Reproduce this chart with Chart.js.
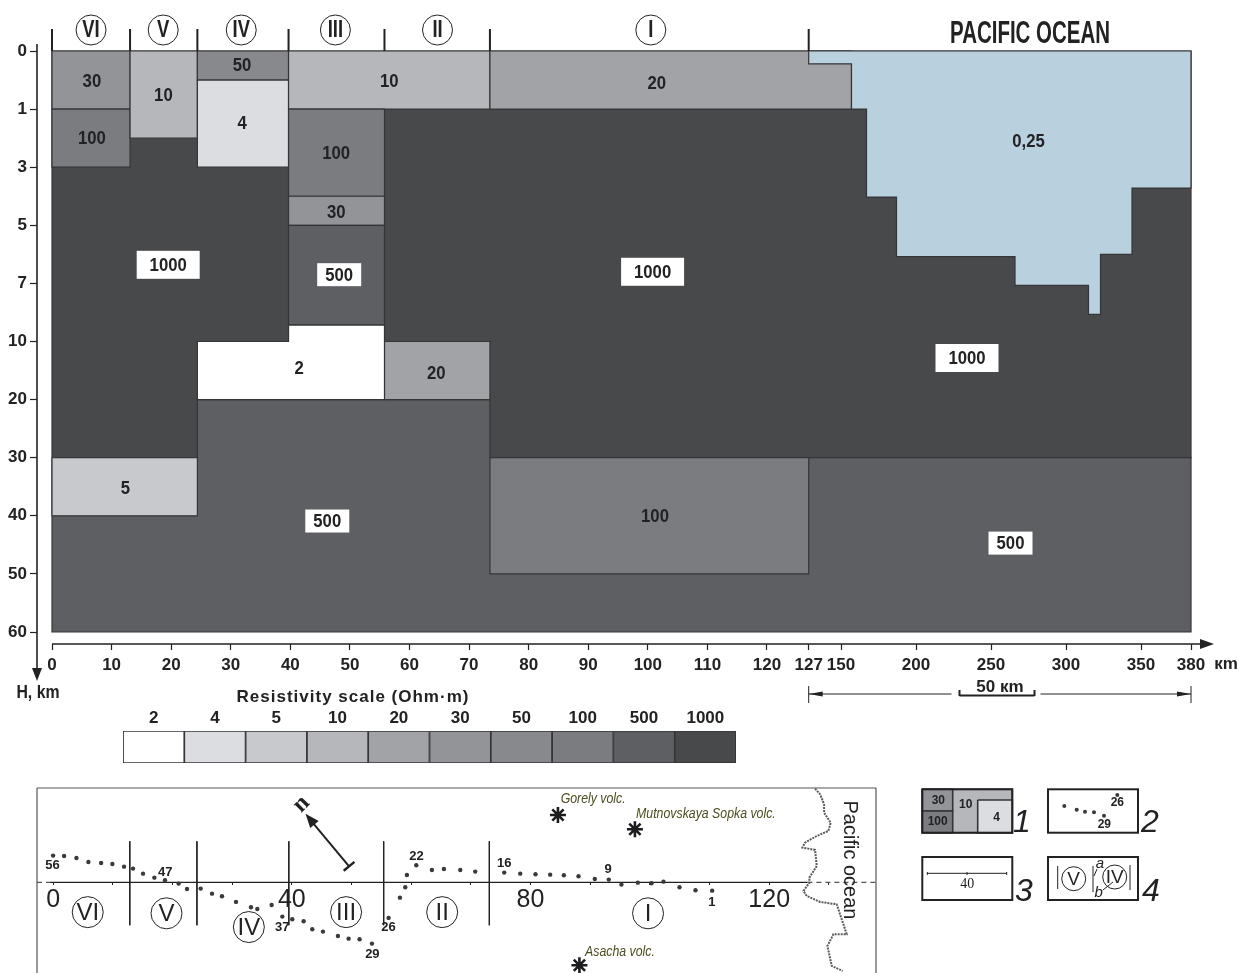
<!DOCTYPE html>
<html>
<head>
<meta charset="utf-8">
<title>Resistivity section</title>
<script src="https://cdn.jsdelivr.net/npm/chart.js@4/dist/chart.umd.js"></script>
<style>
  html, body { margin: 0; padding: 0; background: #fff; }
  body { width: 1238px; height: 973px; position: relative; overflow: hidden; }
  canvas { position: absolute; }
</style>
</head>
<body>
<canvas id="profile" width="1238" height="720" style="left:0;top:0"></canvas>
<canvas id="scaleBar" width="660" height="70" style="left:100px;top:700px"></canvas>
<canvas id="map" width="855" height="193" style="left:30px;top:780px"></canvas>
<canvas id="keys" width="255" height="130" style="left:915px;top:780px"></canvas>
<script>
// resistivity classes, Ohm*m
const rhoClasses = ["2", "4", "5", "10", "20", "30", "50", "100", "500", "1000"];
const rhoColors = ["#ffffff", "#dcdde0", "#c8c9cc", "#b6b7bb", "#a2a3a7", "#939498", "#88898d", "#7b7c80", "#5e5f62", "#48494b"];
const oceanColor = "#b9d0df";

// section blocks, km (painted in this order, after the deep layer)
const blockRho = ["5", "100", "30", "100", "10", "50", "4", "10", "20", "100", "30", "500", "20"];
const blockX0 = [0, 73.5, 0, 0, 13.1, 24.4, 24.4, 39.7, 73.5, 39.7, 39.7, 39.7, 55.8];
const blockX1 = [24.4, 127, 13.1, 13.1, 24.4, 39.7, 39.7, 73.5, 157, 55.8, 55.8, 55.8, 73.5];
const blockTop = [30, 30, 0, 1, 0, 0, 0.5, 0, 0, 1, 4, 5, 10];
const blockBottom = [40, 50, 1, 3, 2, 0.5, 3, 1, 1, 4, 5, 9.15, 20];

// upper resistive layer, then the deep layer under it
const baseX = [0, 380, 380, 0, 0];
const baseH = [0, 0, 30, 30, 0];
const deepX = [0, 24.4, 24.4, 73.5, 73.5, 380, 380, 0, 0];
const deepH = [30, 30, 20, 20, 30, 30, 60, 60, 30];

// low-resistivity body outline
const lowBodyX = [24.4, 39.7, 39.7, 55.8, 55.8, 24.4, 24.4];
const lowBodyH = [10, 10, 9.15, 9.15, 20, 20, 10];

// sea floor outline
const oceanX = [127, 127, 157, 157, 167, 167, 187, 187, 266, 266, 315, 315, 323, 323, 344, 344, 380, 380, 127];
const oceanH = [0, 0.22, 0.22, 1, 1, 4.03, 4.03, 6.08, 6.08, 7.1, 7.1, 8.6, 8.6, 6, 6, 3.72, 3.72, 0, 0];

// axes
const xTicks = [0, 10, 20, 30, 40, 50, 60, 70, 80, 90, 100, 110, 120, 127, 150, 200, 250, 300, 350, 380];
const yTicks = [0, 1, 3, 5, 7, 10, 20, 30, 40, 50, 60];

// value labels inside the section
const labelText = ["30", "100", "10", "50", "4", "10", "20", "100", "30", "500", "1000", "1000", "1000", "2", "20", "5", "500", "100", "500", "0,25"];
const labelX = [6.7, 6.7, 18.7, 31.9, 31.9, 56.6, 101.5, 47.7, 47.7, 48.2, 19.5, 100.8, 234, 41.5, 64.5, 12.3, 46.2, 101.2, 263, 275];
const labelH = [0.52, 2, 0.76, 0.24, 1.48, 0.52, 0.55, 2.52, 4.52, 6.7, 6.36, 6.6, 12.84, 14.6, 15.3, 35.2, 40.9, 40, 44.7, 2.1];
const labelBoxed = [0, 0, 0, 0, 0, 0, 0, 0, 0, 1, 1, 1, 1, 0, 0, 0, 1, 0, 1, 0];

// zones
const zoneEdges = [0, 13.1, 24.4, 39.7, 55.8, 73.5, 127];
const zoneNames = ["VI", "V", "IV", "III", "II", "I"];
const zoneCenters = [6.55, 18.66, 31.76, 47.56, 64.7, 100.5];

// map: sounding sites, km along / across the profile
const siteX = [0, 1.84, 3.91, 5.91, 8.04, 9.93, 11.89, 13.39, 15.07, 16.97, 18.75, 21.04, 22.44, 24.73, 26.63, 28.3, 30.65, 33.16, 34.22, 36.62, 38.41, 40.08, 41.98, 43.43, 45.22, 47.73, 49.52, 51.36, 53.43, 56.22, 58.12, 59.01, 59.29, 60.86, 63.48, 65.49, 68.23, 70.74, 75.6, 78.28, 80.84, 83.3, 85.59, 88.05, 90.78, 93.12, 95.24, 97.99, 100.28, 102.29, 104.97, 107.65, 110.44];
const siteY = [4.47, 4.41, 4.08, 3.41, 3.24, 3.07, 2.62, 2.29, 1.45, 0.78, 0.34, -0.22, -1.12, -1.06, -1.9, -2.35, -3.29, -4.19, -4.47, -3.8, -5.75, -6.2, -6.53, -7.87, -8.26, -8.99, -9.44, -9.55, -10.27, -5.97, -2.57, -0.84, 1.23, 2.85, 2.07, 2.23, 2.07, 1.79, 1.62, 1.45, 1.34, 1.28, 1.17, 1, 0.56, 0.45, -0.39, -0.06, -0.17, 0.11, -0.84, -1.34, -1.4];
const siteLabelText = ["56", "47", "37", "29", "26", "22", "16", "9", "1"];
const siteLabelX = [-0.1, 18.8, 38.4, 53.5, 56.2, 60.9, 75.6, 93, 110.4];
const siteLabelY = [2.85, 1.68, -7.5, -12.06, -7.5, 4.36, 3.18, 2.18, -3.35];

const mapZoneX = [5.8, 19, 32.8, 49.1, 65.2, 99.7];
const mapZoneY = [-5, -5.2, -7.5, -5, -5, -5.2];
const mapEdges = [12.85, 24.1, 39.5, 55.4, 73.1];

const volcanoName = ["Gorely volc.", "Mutnovskaya Sopka volc.", "Asacha volc."];
const volcanoX = [84.6, 97.5, 88.2];
const volcanoY = [11.27, 8.88, -13.9];
const volcanoLabelX = [90.5, 109.4, 95];
const volcanoLabelY = [13.9, 11.5, -11.7];

const coastX = [127.69, 128.53, 129.2, 129.2, 130.31, 129.92, 127.97, 126.02, 125.57, 127.69, 127.97, 126.74, 126.74, 125.74, 126.3, 128.53, 131.32, 132.99, 130.76, 129.76, 130.48, 132.32];
const coastY = [15.69, 14.74, 13.07, 11.67, 9.99, 8.6, 7.76, 6.64, 5.81, 5.42, 2.74, 0.78, -0.06, -1.45, -2.29, -3.29, -3.69, -8.71, -8.71, -10.66, -14.01, -14.85];

const mapTicksShown = [0, 40, 80, 120];

// key panels
const keyBlockFill = ["10", "30", "100", "4"];
const keyBlockX0 = [7.3, 7.3, 7.3, 62.7];
const keyBlockX1 = [97.3, 37.7, 37.7, 97.3];
const keyBlockTop = [9.3, 9.3, 31, 20];
const keyBlockBottom = [52.7, 31, 52.7, 52.7];
const keyDotX = [149.3, 161.7, 170, 179, 189, 202.3];
const keyDotY = [26, 29.7, 31.7, 32.3, 35.7, 15];

const inkColor = "#222224";
const edgeColor = "#353537";
const boldFont = '"Liberation Sans", Arial, sans-serif';

// axis that is linear between given stops only (the section uses an uneven depth and distance scale)
class PiecewiseScale extends Chart.LinearScale {
    static id = "piecewise";
    static defaults = Chart.LinearScale.defaults;

    buildTicks() {
        return this.options.tickValues.map((value) => ({ value }));
    }

    getPixelForValue(value) {
        const from = this.options.stopValues;
        const to = this.options.stopPixels;
        let i = 0;
        while (i < from.length - 2 && value > from[i + 1]) i++;
        return to[i] + ((value - from[i]) * (to[i + 1] - to[i])) / (from[i + 1] - from[i]);
    }
}
Chart.register(PiecewiseScale);

const colorOf = (rho) => rhoColors[rhoClasses.indexOf(rho)];

const rectPath = (x0, x1, top, bottom) => [
    { x: x0, y: top }, { x: x1, y: top }, { x: x1, y: bottom }, { x: x0, y: bottom }, { x: x0, y: top },
];
const zipPoints = (xs, ys) => xs.map((x, i) => ({ x, y: ys[i] }));

// closed polygon dataset; filled through the library's filler
const shape = (data, fill, order, width = 1.2) => ({
    data, order, showLine: true, fill: "shape", tension: 0, pointRadius: 0,
    backgroundColor: fill, borderColor: edgeColor, borderWidth: width,
});
const polyline = (data, color, width, dash) => ({
    data, showLine: true, tension: 0, pointRadius: 0, fill: false,
    borderColor: color, borderWidth: width, borderDash: dash || [],
});

// stretch squeezes the glyphs sideways, the original lettering is condensed
function text(ctx, str, x, y, font, color = inkColor, stretch = 1) {
    ctx.save();
    ctx.translate(x, y);
    ctx.scale(stretch, 1);
    ctx.font = font;
    ctx.fillStyle = color;
    ctx.textAlign = "center";
    ctx.textBaseline = "middle";
    ctx.fillText(str, 0, 0);
    ctx.restore();
}
function line(ctx, x0, y0, x1, y1, width = 1, color = inkColor) {
    ctx.strokeStyle = color;
    ctx.lineWidth = width;
    ctx.beginPath();
    ctx.moveTo(x0, y0);
    ctx.lineTo(x1, y1);
    ctx.stroke();
}
function arrowHead(ctx, tipX, tipY, angle, len, half, color = inkColor) {
    ctx.save();
    ctx.translate(tipX, tipY);
    ctx.rotate(angle);
    ctx.fillStyle = color;
    ctx.beginPath();
    ctx.moveTo(0, 0);
    ctx.lineTo(-len, -half);
    ctx.lineTo(-len, half);
    ctx.closePath();
    ctx.fill();
    ctx.restore();
}
function zoneBadge(ctx, name, x, y, r, font, stretch = 1) {
    ctx.strokeStyle = inkColor;
    ctx.lineWidth = 1;
    ctx.fillStyle = "#fff";
    ctx.beginPath();
    ctx.arc(x, y, r, 0, Math.PI * 2);
    ctx.fill();
    ctx.stroke();
    text(ctx, name, x, y + 1, font, inkColor, stretch);
}

// ---- section ----
const sectionSets = [
    shape(zipPoints(baseX, baseH), colorOf("1000"), 200),
    shape(zipPoints(deepX, deepH), colorOf("500"), 190),
    ...blockRho.map((rho, i) =>
        shape(rectPath(blockX0[i], blockX1[i], blockTop[i], blockBottom[i]), colorOf(rho), 100 - i)),
    shape(zipPoints(lowBodyX, lowBodyH), colorOf("2"), 60),
    shape(zipPoints(oceanX, oceanH), oceanColor, 50),
];

const sectionNotes = {
    id: "sectionNotes",
    afterDatasetsDraw(chart) {
        const { ctx } = chart;
        const sx = chart.scales.x;
        const sy = chart.scales.y;
        const top = sy.getPixelForValue(0);
        ctx.save();

        // value labels
        labelText.forEach((t, i) => {
            const px = sx.getPixelForValue(labelX[i]);
            const py = sy.getPixelForValue(labelH[i]);
            if (labelBoxed[i]) {
                const w = t.length === 4 ? 63 : 44;
                const h = t.length === 4 ? 28 : 23;
                ctx.fillStyle = "#fff";
                ctx.fillRect(px - w / 2, py - h / 2, w, h);
            }
            text(ctx, t, px, py + 1, `bold 19px ${boldFont}`, inkColor, 0.88);
        });

        // zones along the top
        zoneEdges.forEach((z) => {
            const px = sx.getPixelForValue(z);
            line(ctx, px, top - 22, px, top, 2);
        });
        zoneNames.forEach((n, i) => {
            zoneBadge(ctx, n, sx.getPixelForValue(zoneCenters[i]), top - 21, 15, `bold 23px ${boldFont}`, 0.8);
        });
        text(ctx, "PACIFIC OCEAN", 1030, 34, `bold 31px ${boldFont}`, inkColor, 0.66);

        // axis lines with arrows
        const x0 = sx.getPixelForValue(0);
        line(ctx, chart.chartArea.left, 44, chart.chartArea.left, 670, 1.6);
        arrowHead(ctx, chart.chartArea.left, 681, Math.PI / 2, 13, 5);
        line(ctx, x0, chart.chartArea.bottom, 1202, chart.chartArea.bottom, 1.6);
        arrowHead(ctx, 1214, chart.chartArea.bottom, 0, 14, 5);
        text(ctx, "кm", 1226, 664, `bold 17px ${boldFont}`);
        text(ctx, "H, km", 38, 693, `bold 18px ${boldFont}`, inkColor, 0.88);
        ctx.save();
        ctx.letterSpacing = "1px";
        text(ctx, "Resistivity scale (Ohm·m)", 353, 697, `bold 17px ${boldFont}`);
        ctx.restore();

        // 50 km bar for the oceanic part
        const a = sx.getPixelForValue(127);
        const b = sx.getPixelForValue(380);
        const c = sx.getPixelForValue(229);
        const d = sx.getPixelForValue(279);
        line(ctx, a, 686, a, 703, 1);
        line(ctx, b, 686, b, 703, 1);
        line(ctx, a, 694, c - 8, 694, 1);
        line(ctx, d + 6, 694, b, 694, 1);
        arrowHead(ctx, a, 694, Math.PI, 14, 2.5);
        arrowHead(ctx, b, 694, 0, 14, 2.5);
        line(ctx, c, 695.5, d, 695.5, 2);
        line(ctx, c, 690, c, 696, 2);
        line(ctx, d, 690, d, 696, 2);
        text(ctx, "50 кm", 1000, 687, `bold 17px ${boldFont}`);
        ctx.restore();
    },
};

new Chart(document.getElementById("profile"), {
    type: "scatter",
    data: { datasets: sectionSets },
    plugins: [sectionNotes],
    options: {
        responsive: false,
        animation: false,
        devicePixelRatio: 1,
        events: [],
        layout: { autoPadding: false, padding: { top: 44, right: 38, bottom: 46, left: 0 } },
        plugins: { legend: { display: false }, tooltip: { enabled: false } },
        scales: {
            x: {
                type: "piecewise",
                position: "bottom",
                min: -2.5,
                max: 400,
                tickValues: xTicks,
                stopValues: [0, 127, 150, 350, 380],
                stopPixels: [52, 808.7, 841, 1141, 1191],
                afterFit: (s) => { s.height = 30; },
                border: { display: false },
                grid: { drawOnChartArea: false, tickLength: 6, tickColor: inkColor, tickWidth: 1.2 },
                ticks: {
                    autoSkip: false, maxRotation: 0, padding: 5, color: inkColor,
                    font: { family: boldFont, size: 17, weight: "bold" },
                    callback: (v) => String(v),
                },
            },
            y: {
                type: "piecewise",
                position: "left",
                min: 0,
                max: 62,
                tickValues: yTicks,
                stopValues: yTicks,
                stopPixels: yTicks.map((_, i) => 51 + 58.1 * i),
                afterFit: (s) => { s.width = 37; },
                border: { display: false },
                grid: { drawOnChartArea: false, tickLength: 7, tickColor: inkColor, tickWidth: 1.2 },
                ticks: {
                    autoSkip: false, padding: 3, color: inkColor,
                    font: { family: boldFont, size: 17, weight: "bold" },
                    callback: (v) => String(v),
                },
            },
        },
    },
});

// ---- colour scale ----
new Chart(document.getElementById("scaleBar"), {
    type: "bar",
    data: {
        labels: rhoClasses,
        datasets: [{
            data: rhoClasses.map(() => 1),
            backgroundColor: rhoColors,
            borderColor: edgeColor,
            borderWidth: 1.2,
            borderSkipped: false,
            barPercentage: 1,
            categoryPercentage: 1,
        }],
    },
    options: {
        responsive: false,
        animation: false,
        devicePixelRatio: 1,
        events: [],
        layout: { autoPadding: false, padding: { left: 23, right: 24, bottom: 7, top: 0 } },
        plugins: { legend: { display: false }, tooltip: { enabled: false } },
        scales: {
            x: {
                position: "top",
                afterFit: (s) => { s.height = 31; },
                border: { display: false },
                grid: { display: false, drawTicks: false },
                ticks: { padding: 2, color: inkColor, maxRotation: 0, font: { family: boldFont, size: 17, weight: "bold" } },
            },
            y: { display: false, min: 0, max: 1 },
        },
    },
});

// ---- map ----
const mapSets = [
    { data: zipPoints(siteX, siteY), pointRadius: 2.2, pointBackgroundColor: "#3a3a3c", pointBorderWidth: 0 },
    polyline(zipPoints(coastX, coastY), "#5a5a5c", 2, [2, 1]),
    polyline([{ x: -0.6, y: 0 }, { x: 126.4, y: 0 }], inkColor, 1.2),
    polyline([{ x: 126.4, y: 0 }, { x: 137.9, y: 0 }], "#555", 1.2, [5, 4]),
    polyline([{ x: -2.7, y: 0 }, { x: -0.6, y: 0 }], "#555", 1.2, [5, 4]),
    polyline([{ x: 49.6, y: 2.68 }, { x: 43, y: 10.6 }], inkColor, 2),
    {
        data: zipPoints(volcanoX, volcanoY),
        pointStyle: "star", pointRadius: 8, pointBorderWidth: 2.6, pointBorderColor: "#1c1c1e",
    },
    ...mapEdges.map((z) => polyline([{ x: z, y: 6.87 }, { x: z, y: -7.2 }], inkColor, 1)),
];

const mapNotes = {
    id: "mapNotes",
    afterDatasetsDraw(chart) {
        const { ctx, chartArea } = chart;
        const sx = chart.scales.x;
        const sy = chart.scales.y;
        const px = (v) => sx.getPixelForValue(v);
        const py = (v) => sy.getPixelForValue(v);
        ctx.save();

        // frame, open at the bottom
        line(ctx, chartArea.left, chartArea.bottom, chartArea.left, chartArea.top, 1.2, "#555");
        line(ctx, chartArea.left, chartArea.top, chartArea.right, chartArea.top, 1.2, "#555");
        line(ctx, chartArea.right, chartArea.top, chartArea.right, chartArea.bottom, 1.2, "#555");

        siteLabelText.forEach((t, i) => {
            text(ctx, t, px(siteLabelX[i]), py(siteLabelY[i]), `bold 13px ${boldFont}`);
        });
        zoneNames.forEach((n, i) => {
            zoneBadge(ctx, n, px(mapZoneX[i]), py(mapZoneY[i]), 15.5, `24px ${boldFont}`);
        });
        volcanoName.forEach((n, i) => {
            text(ctx, n, px(volcanoLabelX[i]), py(volcanoLabelY[i]), `italic 14px ${boldFont}`, "#4d4d1f", 0.88);
        });

        // north arrow
        const angle = Math.atan2(py(11.5) - py(2.68), px(42.3) - px(49.6));
        arrowHead(ctx, px(42.3), py(11.5), angle, 14, 5.5);
        ctx.save();
        ctx.translate(px(49.6), py(2.68));
        ctx.rotate(angle + Math.PI / 2);
        line(ctx, -7, 0, 7, 0, 2.4);
        ctx.restore();
        ctx.save();
        ctx.translate(px(41.6), py(13.1));
        ctx.rotate(-Math.PI / 4);
        text(ctx, "n", 0, 0, 'bold 24px "Liberation Serif", serif');
        ctx.restore();

        ctx.save();
        ctx.translate(850 - 30, 860 - 780);
        ctx.rotate(Math.PI / 2);
        text(ctx, "Pacific ocean", 0, 0, `20px ${boldFont}`);
        ctx.restore();
        ctx.restore();
    },
};

new Chart(document.getElementById("map"), {
    type: "scatter",
    data: { datasets: mapSets },
    plugins: [mapNotes],
    options: {
        responsive: false,
        animation: false,
        devicePixelRatio: 1,
        events: [],
        layout: { autoPadding: false, padding: { left: 7, right: 9, top: 8, bottom: 0 } },
        plugins: { legend: { display: false }, tooltip: { enabled: false } },
        scales: {
            x: {
                min: -2.7,
                max: 137.9,
                position: { y: 0 },
                border: { display: false },
                grid: { drawOnChartArea: false, tickLength: 3, tickColor: inkColor },
                ticks: {
                    stepSize: 10, autoSkip: false, includeBounds: false, maxRotation: 0, padding: 0, color: inkColor,
                    font: { family: boldFont, size: 25 },
                    callback: (v) => (mapTicksShown.includes(v) ? String(v) : ""),
                },
            },
            y: { display: false, min: -15.2, max: 15.8 },
        },
    },
});

// ---- key panels ----
const keySets = [
    ...keyBlockFill.map((rho, i) =>
        shape(rectPath(keyBlockX0[i], keyBlockX1[i], keyBlockTop[i], keyBlockBottom[i]), colorOf(rho), 10 - i, 1.6)),
    { data: zipPoints(keyDotX, keyDotY), pointRadius: 2, pointBackgroundColor: "#3a3a3c", pointBorderWidth: 0, order: 0 },
];

const keyNotes = {
    id: "keyNotes",
    afterDatasetsDraw(chart) {
        const { ctx } = chart;
        const sx = chart.scales.x;
        const sy = chart.scales.y;
        const at = (x, y) => [sx.getPixelForValue(x), sy.getPixelForValue(y)];
        const label = (t, x, y, font, color) => { const p = at(x, y); text(ctx, t, p[0], p[1], font, color); };
        const seg = (x0, y0, x1, y1, w) => { const a = at(x0, y0); const b = at(x1, y1); line(ctx, a[0], a[1], b[0], b[1], w); };
        const frame = (x0, y0, x1, y1) => {
            const a = at(x0, y0);
            const b = at(x1, y1);
            ctx.strokeStyle = inkColor;
            ctx.lineWidth = 2;
            ctx.strokeRect(a[0], a[1], b[0] - a[0], b[1] - a[1]);
        };
        ctx.save();
        frame(7.3, 9.3, 97.3, 52.7);
        frame(133, 9.3, 223, 52.7);
        frame(7.3, 77, 97.3, 120);
        frame(133, 77, 223, 120);

        const small = `bold 12px ${boldFont}`;
        label("30", 23.3, 20.7, small);
        label("100", 22.7, 41.7, small);
        label("10", 50.7, 24.3, small);
        label("4", 81.7, 37.7, small);
        label("26", 202.3, 22.7, small);
        label("29", 189.3, 44.3, small);

        seg(12.3, 93.3, 91.7, 93.3, 1);
        seg(12.3, 92, 12.3, 95, 1);
        seg(52, 92, 52, 95, 1);
        seg(91.7, 92, 91.7, 95, 1);
        label("40", 52.3, 104, '14px "Liberation Serif", serif');

        seg(142.7, 86, 142.7, 109, 1);
        seg(178, 86, 178, 112, 1);
        seg(215, 85, 215, 110, 1);
        const v = at(158.7, 98.7);
        zoneBadge(ctx, "V", v[0], v[1], 12, `19px ${boldFont}`);
        const iv = at(199.7, 97);
        zoneBadge(ctx, "IV", iv[0], iv[1], 12, `19px ${boldFont}`);
        seg(179, 96, 182, 89, 1);
        seg(188, 110, 198, 102, 1);
        label("a", 185, 84, `italic 15px ${boldFont}`);
        label("b", 183.7, 113, `italic 15px ${boldFont}`);

        const big = `italic 32px ${boldFont}`;
        label("1", 107, 43, big);
        label("2", 235, 43, big);
        label("3", 109, 112, big);
        label("4", 236, 112, big);
        ctx.restore();
    },
};

new Chart(document.getElementById("keys"), {
    type: "scatter",
    data: { datasets: keySets },
    plugins: [keyNotes],
    options: {
        responsive: false,
        animation: false,
        devicePixelRatio: 1,
        events: [],
        layout: { autoPadding: false },
        plugins: { legend: { display: false }, tooltip: { enabled: false } },
        scales: {
            x: { display: false, min: 0, max: 255 },
            y: { display: false, min: 0, max: 130, reverse: true },
        },
    },
});
</script>
</body>
</html>
